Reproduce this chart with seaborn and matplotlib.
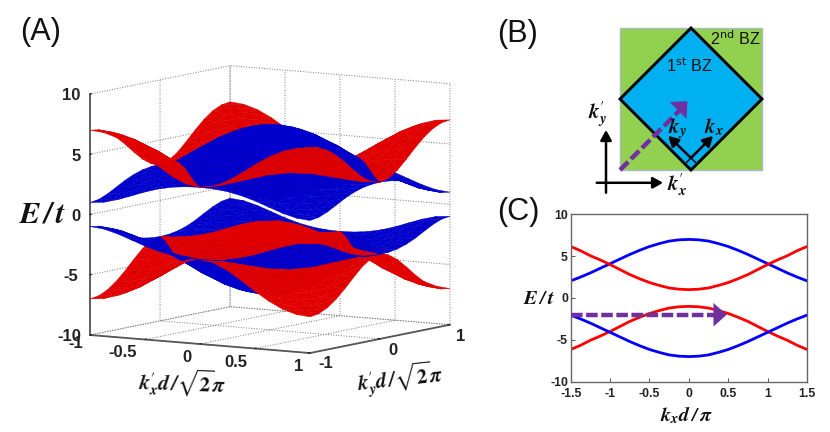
import numpy as np
import pandas as pd
import matplotlib
matplotlib.use("Agg")
import matplotlib.pyplot as plt
import seaborn as sns
from matplotlib.transforms import Affine2D
from mpl_toolkits.mplot3d import proj3d
from mpl_toolkits.mplot3d.art3d import Poly3DCollection

# ---------- data ----------
k_cut = [-1.5, -1.375, -1.25, -1.125, -1.0, -0.875, -0.75, -0.625, -0.5, -0.375, -0.25, -0.125, 0.0,
         0.125, 0.25, 0.375, 0.5, 0.625, 0.75, 0.875, 1.0, 1.125, 1.25, 1.375, 1.5]
upper_blue_cut = [2.05, 2.5, 3.0, 3.55, 4.1, 4.65, 5.2, 5.7, 6.15, 6.5, 6.8, 6.95, 7.0,
                  6.95, 6.8, 6.5, 6.15, 5.7, 5.2, 4.65, 4.1, 3.55, 3.0, 2.5, 2.05]
upper_red_cut = [6.15, 5.65, 5.05, 4.55, 4.0, 3.4, 2.8, 2.3, 1.85, 1.5, 1.2, 1.05, 1.0,
                 1.05, 1.2, 1.5, 1.85, 2.3, 2.8, 3.4, 4.0, 4.55, 5.05, 5.65, 6.15]
lower_red_cut = [-6.15, -5.65, -5.05, -4.55, -4.0, -3.4, -2.8, -2.3, -1.85, -1.5, -1.2, -1.05, -1.0,
                 -1.05, -1.2, -1.5, -1.85, -2.3, -2.8, -3.4, -4.0, -4.55, -5.05, -5.65, -6.15]
lower_blue_cut = [-2.05, -2.5, -3.0, -3.55, -4.1, -4.65, -5.2, -5.7, -6.15, -6.5, -6.8, -6.95, -7.0,
                  -6.95, -6.8, -6.5, -6.15, -5.7, -5.2, -4.65, -4.1, -3.55, -3.0, -2.5, -2.05]

k_grid = [-1.0, -0.875, -0.75, -0.625, -0.5, -0.375, -0.25, -0.125, 0.0,
          0.125, 0.25, 0.375, 0.5, 0.625, 0.75, 0.875, 1.0]
# half the split between the two bands of a pair
band_offset = [
    [-3.00, -2.89, -2.56, -2.07, -1.50, -0.93, -0.44, -0.11, 0.00, -0.11, -0.44, -0.93, -1.50, -2.07, -2.56, -2.89, -3.00],
    [-2.89, -2.78, -2.45, -1.96, -1.39, -0.82, -0.33, 0.00, 0.11, 0.00, -0.33, -0.82, -1.39, -1.96, -2.45, -2.78, -2.89],
    [-2.56, -2.45, -2.12, -1.63, -1.06, -0.49, 0.00, 0.33, 0.44, 0.33, 0.00, -0.49, -1.06, -1.63, -2.12, -2.45, -2.56],
    [-2.07, -1.96, -1.63, -1.14, -0.57, 0.00, 0.49, 0.82, 0.93, 0.82, 0.49, 0.00, -0.57, -1.14, -1.63, -1.96, -2.07],
    [-1.50, -1.39, -1.06, -0.57, 0.00, 0.57, 1.06, 1.39, 1.50, 1.39, 1.06, 0.57, 0.00, -0.57, -1.06, -1.39, -1.50],
    [-0.93, -0.82, -0.49, 0.00, 0.57, 1.14, 1.63, 1.96, 2.07, 1.96, 1.63, 1.14, 0.57, 0.00, -0.49, -0.82, -0.93],
    [-0.44, -0.33, 0.00, 0.49, 1.06, 1.63, 2.12, 2.45, 2.56, 2.45, 2.12, 1.63, 1.06, 0.49, 0.00, -0.33, -0.44],
    [-0.11, 0.00, 0.33, 0.82, 1.39, 1.96, 2.45, 2.78, 2.89, 2.78, 2.45, 1.96, 1.39, 0.82, 0.33, 0.00, -0.11],
    [0.00, 0.11, 0.44, 0.93, 1.50, 2.07, 2.56, 2.89, 3.00, 2.89, 2.56, 2.07, 1.50, 0.93, 0.44, 0.11, 0.00],
    [-0.11, 0.00, 0.33, 0.82, 1.39, 1.96, 2.45, 2.78, 2.89, 2.78, 2.45, 1.96, 1.39, 0.82, 0.33, 0.00, -0.11],
    [-0.44, -0.33, 0.00, 0.49, 1.06, 1.63, 2.12, 2.45, 2.56, 2.45, 2.12, 1.63, 1.06, 0.49, 0.00, -0.33, -0.44],
    [-0.93, -0.82, -0.49, 0.00, 0.57, 1.14, 1.63, 1.96, 2.07, 1.96, 1.63, 1.14, 0.57, 0.00, -0.49, -0.82, -0.93],
    [-1.50, -1.39, -1.06, -0.57, 0.00, 0.57, 1.06, 1.39, 1.50, 1.39, 1.06, 0.57, 0.00, -0.57, -1.06, -1.39, -1.50],
    [-2.07, -1.96, -1.63, -1.14, -0.57, 0.00, 0.49, 0.82, 0.93, 0.82, 0.49, 0.00, -0.57, -1.14, -1.63, -1.96, -2.07],
    [-2.56, -2.45, -2.12, -1.63, -1.06, -0.49, 0.00, 0.33, 0.44, 0.33, 0.00, -0.49, -1.06, -1.63, -2.12, -2.45, -2.56],
    [-2.89, -2.78, -2.45, -1.96, -1.39, -0.82, -0.33, 0.00, 0.11, 0.00, -0.33, -0.82, -1.39, -1.96, -2.45, -2.78, -2.89],
    [-3.00, -2.89, -2.56, -2.07, -1.50, -0.93, -0.44, -0.11, 0.00, -0.11, -0.44, -0.93, -1.50, -2.07, -2.56, -2.89, -3.00],
]
# height of the middle of each band pair, read as 4 on the diagonals and 3 at the edge midpoints
band_centre = [
    [4.00, 4.00, 3.98, 3.90, 3.75, 3.52, 3.27, 3.07, 3.00, 3.07, 3.27, 3.52, 3.75, 3.90, 3.98, 4.00, 4.00],
    [4.00, 4.00, 3.99, 3.93, 3.79, 3.57, 3.33, 3.14, 3.07, 3.14, 3.33, 3.57, 3.79, 3.93, 3.99, 4.00, 4.00],
    [3.98, 3.99, 4.00, 3.97, 3.88, 3.71, 3.50, 3.33, 3.27, 3.33, 3.50, 3.71, 3.88, 3.97, 4.00, 3.99, 3.98],
    [3.90, 3.93, 3.97, 4.00, 3.96, 3.86, 3.71, 3.57, 3.52, 3.57, 3.71, 3.86, 3.96, 4.00, 3.97, 3.93, 3.90],
    [3.75, 3.79, 3.88, 3.96, 4.00, 3.96, 3.88, 3.79, 3.75, 3.79, 3.88, 3.96, 4.00, 3.96, 3.88, 3.79, 3.75],
    [3.52, 3.57, 3.71, 3.86, 3.96, 4.00, 3.97, 3.93, 3.90, 3.93, 3.97, 4.00, 3.96, 3.86, 3.71, 3.57, 3.52],
    [3.27, 3.33, 3.50, 3.71, 3.88, 3.97, 4.00, 3.99, 3.98, 3.99, 4.00, 3.97, 3.88, 3.71, 3.50, 3.33, 3.27],
    [3.07, 3.14, 3.33, 3.57, 3.79, 3.93, 3.99, 4.00, 4.00, 4.00, 3.99, 3.93, 3.79, 3.57, 3.33, 3.14, 3.07],
    [3.00, 3.07, 3.27, 3.52, 3.75, 3.90, 3.98, 4.00, 4.00, 4.00, 3.98, 3.90, 3.75, 3.52, 3.27, 3.07, 3.00],
    [3.07, 3.14, 3.33, 3.57, 3.79, 3.93, 3.99, 4.00, 4.00, 4.00, 3.99, 3.93, 3.79, 3.57, 3.33, 3.14, 3.07],
    [3.27, 3.33, 3.50, 3.71, 3.88, 3.97, 4.00, 3.99, 3.98, 3.99, 4.00, 3.97, 3.88, 3.71, 3.50, 3.33, 3.27],
    [3.52, 3.57, 3.71, 3.86, 3.96, 4.00, 3.97, 3.93, 3.90, 3.93, 3.97, 4.00, 3.96, 3.86, 3.71, 3.57, 3.52],
    [3.75, 3.79, 3.88, 3.96, 4.00, 3.96, 3.88, 3.79, 3.75, 3.79, 3.88, 3.96, 4.00, 3.96, 3.88, 3.79, 3.75],
    [3.90, 3.93, 3.97, 4.00, 3.96, 3.86, 3.71, 3.57, 3.52, 3.57, 3.71, 3.86, 3.96, 4.00, 3.97, 3.93, 3.90],
    [3.98, 3.99, 4.00, 3.97, 3.88, 3.71, 3.50, 3.33, 3.27, 3.33, 3.50, 3.71, 3.88, 3.97, 4.00, 3.99, 3.98],
    [4.00, 4.00, 3.99, 3.93, 3.79, 3.57, 3.33, 3.14, 3.07, 3.14, 3.33, 3.57, 3.79, 3.93, 3.99, 4.00, 4.00],
    [4.00, 4.00, 3.98, 3.90, 3.75, 3.52, 3.27, 3.07, 3.00, 3.07, 3.27, 3.52, 3.75, 3.90, 3.98, 4.00, 4.00],
]

x3_ticks = [-1, -0.5, 0, 0.5, 1]
x3_labels = ["-1", "-0.5", "0", "0.5", "1"]
y3_ticks = [-1, 0, 1]
y3_labels = ["-1", "0", "1"]
z_ticks = [-10, -5, 0, 5, 10]
z_labels = ["-10", "-5", "0", "5", "10"]
c_xticks = [-1.5, -1, -0.5, 0, 0.5, 1, 1.5]
c_xlabels = ["-1.5", "-1", "-0.5", "0", "0.5", "1", "1.5"]

# panel B, in units of the zone half-width
bz_square = [(-1, -1), (1, -1), (1, 1), (-1, 1)]
bz_diamond = [(0, 1), (1, 0), (0, -1), (-1, 0)]

RED, BLUE = "#e00000", "#0000cc"
LINE_RED, LINE_BLUE = "#ff0000", "#0000ff"
PURPLE = "#7030a0"
W, H = 830, 432

sns.set_theme(style="white")
plt.rcParams["font.family"] = ["Liberation Sans", "DejaVu Sans"]
plt.rcParams["mathtext.fontset"] = "stix"
plt.rcParams["axes.unicode_minus"] = False

fig = plt.figure(figsize=(W / 100, H / 100), dpi=100, facecolor="white")


def px_rect(x0, y0, x1, y1):
    return [x0 / W, 1 - y1 / H, (x1 - x0) / W, (y1 - y0) / H]


TICK = dict(fontsize=12, fontweight="bold", color="#222222", family="Liberation Sans")
TICK_C = dict(TICK, fontsize=8.8)

# ---------- panel A ----------
ax = fig.add_axes(px_rect(-30, -85, 570, 515), projection="3d", proj_type="ortho", facecolor="none")
ax.view_init(elev=7.4, azim=-57.5)
ax.set_xlim(-1, 1, view_margin=0)
ax.set_ylim(-1, 1, view_margin=0)
ax.set_zlim(-10, 10, view_margin=0)

off = np.array(band_offset)
mid = np.array(band_centre)
bands = [
    (mid + off, BLUE),
    (mid - off, RED),
    (-mid + off, RED),
    (-mid - off, BLUE),
]
grid = np.array(k_grid)
tris, cols = [], []
n = len(grid)
for Z, col in bands:
    for i in range(n - 1):
        for j in range(n - 1):
            a = (grid[j], grid[i], Z[i, j])
            b = (grid[j + 1], grid[i], Z[i, j + 1])
            c = (grid[j + 1], grid[i + 1], Z[i + 1, j + 1])
            d = (grid[j], grid[i + 1], Z[i + 1, j])
            same_sign = (grid[j] + grid[j + 1]) * (grid[i] + grid[i + 1]) > 0
            if same_sign:
                tris += [[a, b, d], [b, c, d]]
            else:
                tris += [[a, b, c], [a, c, d]]
            cols += [col, col]
surf = Poly3DCollection(tris, facecolors=cols, edgecolors=cols, linewidths=0.3, shade=False, zsort="average")
ax.add_collection3d(surf)

ax.set_xticks(x3_ticks, x3_labels, **TICK)
ax.set_yticks(y3_ticks, y3_labels, **TICK)
ax.set_zticks(z_ticks, z_labels, **TICK)
for axis in (ax.xaxis, ax.yaxis, ax.zaxis):
    axis.set_pane_color((1, 1, 1, 0))
    axis.pane.set_edgecolor("#777777")
    axis.pane.set_linestyle(":")
    axis.pane.set_linewidth(0.7)
    axis._axinfo["grid"].update(color="#777777", linestyle=":", linewidth=0.7)
    axis.line.set_color("#555555")
    axis.line.set_linewidth(1.3)
    axis._axinfo["tick"].update(inward_factor=0.0, outward_factor=0.12, linewidth={True: 1.0, False: 0.5})
ax.zaxis.set_ticks_position("lower")
ax.tick_params(axis="x", pad=1)
ax.tick_params(axis="y", pad=1)
ax.tick_params(axis="z", pad=2)


def nudge(axis, shifts):
    # Axis3D resets label transforms at each draw, so the label's own getter carries the pixel shift
    for tick, (dx, dy) in zip(axis.get_major_ticks(), shifts):
        tr = ax.transData + Affine2D().translate(dx, dy)
        tick.label1.get_transform = lambda tr=tr: tr


def corner_px(pt):
    xs, ys, _ = proj3d.proj_transform(*pt, ax.get_proj())
    return np.array(ax.transData.transform((xs, ys)))


target_left = np.array([90, H - 335])
target_right = np.array([450, H - 325])
ax.set_box_aspect((1, 1, 0.932), zoom=1.0)
fig.canvas.draw()
span = np.linalg.norm(corner_px((1, 1, -10)) - corner_px((-1, -1, -10)))
zoom = np.linalg.norm(target_right - target_left) / span
ax.set_box_aspect((1, 1, 0.932), zoom=zoom)
fig.canvas.draw()
shift = target_left - corner_px((-1, -1, -10))
pos = ax.get_position()
ax.set_position([pos.x0 + shift[0] / W, pos.y0 + shift[1] / H, pos.width, pos.height])

nudge(ax.xaxis, [(-9, 10), (-17, 5), (-7, 5), (-13, 4), (-6, 5)])
nudge(ax.yaxis, [(7, 7), (4, 6), (2, 6)])
nudge(ax.zaxis, [(-5, 6), (-3, 6), (2, 6), (2, 6), (-3, 6)])

MATH = dict(fontweight="bold", color="#111111", ha="center", va="center")
fig.text(43 / W, 1 - 215 / H, r"$\mathbfit{E}\,\mathbfit{/}\,\mathbfit{t}$", fontsize=22, **MATH)
fig.text(182 / W, 1 - 383 / H, r"$\mathbfit{k}_{\mathbfit{x}}^{\prime}\mathbfit{d}\,\mathbfit{/}\sqrt{\mathbf{2}}\mathbfit{\pi}$",
         fontsize=15, rotation=-2, **MATH)
fig.text(400 / W, 1 - 379 / H, r"$\mathbfit{k}_{\mathbfit{y}}^{\prime}\mathbfit{d}\,\mathbfit{/}\sqrt{\mathbf{2}}\mathbfit{\pi}$",
         fontsize=15, rotation=6, **MATH)

# ---------- panel B ----------
cx, cy, unit = 691, 99, 71
axb = fig.add_axes(px_rect(570, 10, 790, 205), facecolor="none")
axb.set_xlim((570 - cx) / unit, (790 - cx) / unit)
axb.set_ylim((cy - 205) / unit, (cy - 10) / unit)
axb.axis("off")
axb.fill(*zip(*bz_square), facecolor="#92d050", edgecolor="#a9b8c6", lw=1)
axb.fill(*zip(*bz_diamond), facecolor="#00b0f0", edgecolor="black", lw=2.1, joinstyle="miter")
axb.text(0.27, 0.85, "2$^{\\mathrm{nd}}$ BZ", fontsize=11.6, ha="left", va="center", color="#111111",
         math_fontfamily="dejavusans")
axb.text(-0.03, 0.465, "1$^{\\mathrm{st}}$ BZ", fontsize=11.6, ha="center", va="center", color="#111111",
         math_fontfamily="dejavusans")
axb.plot([-1, -0.14], [-1, -0.14], color=PURPLE, lw=3.2, ls=(0, (2.6, 0.9)), zorder=3)
purple_head = dict(arrowstyle="-|>,head_width=0.85,head_length=0.95", color=PURPLE, lw=0, shrinkA=0, shrinkB=0,
                   mutation_scale=10)
axb.annotate("", xy=(-0.05, -0.03), xytext=(-0.3, -0.28), arrowprops=purple_head)
black_arrow = dict(arrowstyle="-|>,head_width=0.28,head_length=0.5", color="black", lw=1.8, shrinkA=0, shrinkB=0)
axb.annotate("", xy=(0.31, -0.52), xytext=(0, -0.83), arrowprops=black_arrow)
axb.annotate("", xy=(-0.32, -0.52), xytext=(0, -0.83), arrowprops=black_arrow)
axb.plot([-0.06, 0.06], [-0.77, -0.89], color="black", lw=1.1)
axb.plot([-0.06, 0.06], [-0.89, -0.77], color="black", lw=1.1)
axb.annotate("", xy=(-1.197, -0.437), xytext=(-1.197, -1.32), arrowprops=black_arrow)
axb.annotate("", xy=(-0.394, -1.18), xytext=(-1.328, -1.18), arrowprops=black_arrow)
LAB = dict(fontsize=15, ha="center", va="center", color="#111111")
axb.text(-0.197, -0.41, r"$\mathbfit{k}_{\mathbfit{y}}$", **LAB)
axb.text(0.32, -0.39, r"$\mathbfit{k}_{\mathbfit{x}}$", **LAB)
axb.text(-1.32, -0.225, r"$\mathbfit{k}_{\mathbfit{y}}^{\prime}$", **LAB)
axb.text(-0.197, -1.2, r"$\mathbfit{k}_{\mathbfit{x}}^{\prime}$", **LAB)

# ---------- panel C ----------
axc = fig.add_axes(px_rect(570.7, 214.3, 807, 381.7))
df = pd.DataFrame({"k": k_cut, "ub": upper_blue_cut, "ur": upper_red_cut, "lr": lower_red_cut, "lb": lower_blue_cut})
for name, col in (("ub", LINE_BLUE), ("ur", LINE_RED), ("lr", LINE_RED), ("lb", LINE_BLUE)):
    sns.lineplot(data=df, x="k", y=name, color=col, lw=2.0, ax=axc, estimator=None, sort=False, legend=False)
axc.set_xlim(-1.5, 1.5)
axc.set_ylim(-10, 10)
axc.set_xticks(c_xticks, c_xlabels, **TICK_C)
axc.set_yticks(z_ticks, z_labels, **TICK_C)
axc.tick_params(axis="both", direction="in", length=3, width=0.7, color="#555555", pad=2, bottom=True, left=True)
axc.tick_params(axis="x", pad=4.5)
for s in axc.spines.values():
    s.set_color("#666666")
    s.set_linewidth(1.0)
axc.set_xlabel("")
axc.set_ylabel("")
axc.plot([-1.5, 0.32], [-2, -2], color=PURPLE, lw=3.2, ls=(0, (2.6, 0.8)), zorder=4)
axc.annotate("", xy=(0.48, -2), xytext=(0.28, -2), arrowprops=purple_head, zorder=5)
fig.text(539 / W, 1 - 298 / H, r"$\mathbfit{E}\,\mathbfit{/}\,\mathbfit{t}$", fontsize=14.5, **MATH)
fig.text(686 / W, 1 - 415 / H, r"$\mathbfit{k}_{\mathbfit{x}}\mathbfit{d}\,\mathbfit{/}\,\mathbfit{\pi}$", fontsize=14.5, **MATH)

# ---------- panel letters ----------
for s, x, y in (("(A)", 20, 32), ("(B)", 497, 34), ("(C)", 497, 212)):
    fig.text(x / W, 1 - y / H, s, fontsize=22, ha="left", va="center", color="#111111", family="Liberation Sans")

fig.savefig("out.png", dpi=100)
